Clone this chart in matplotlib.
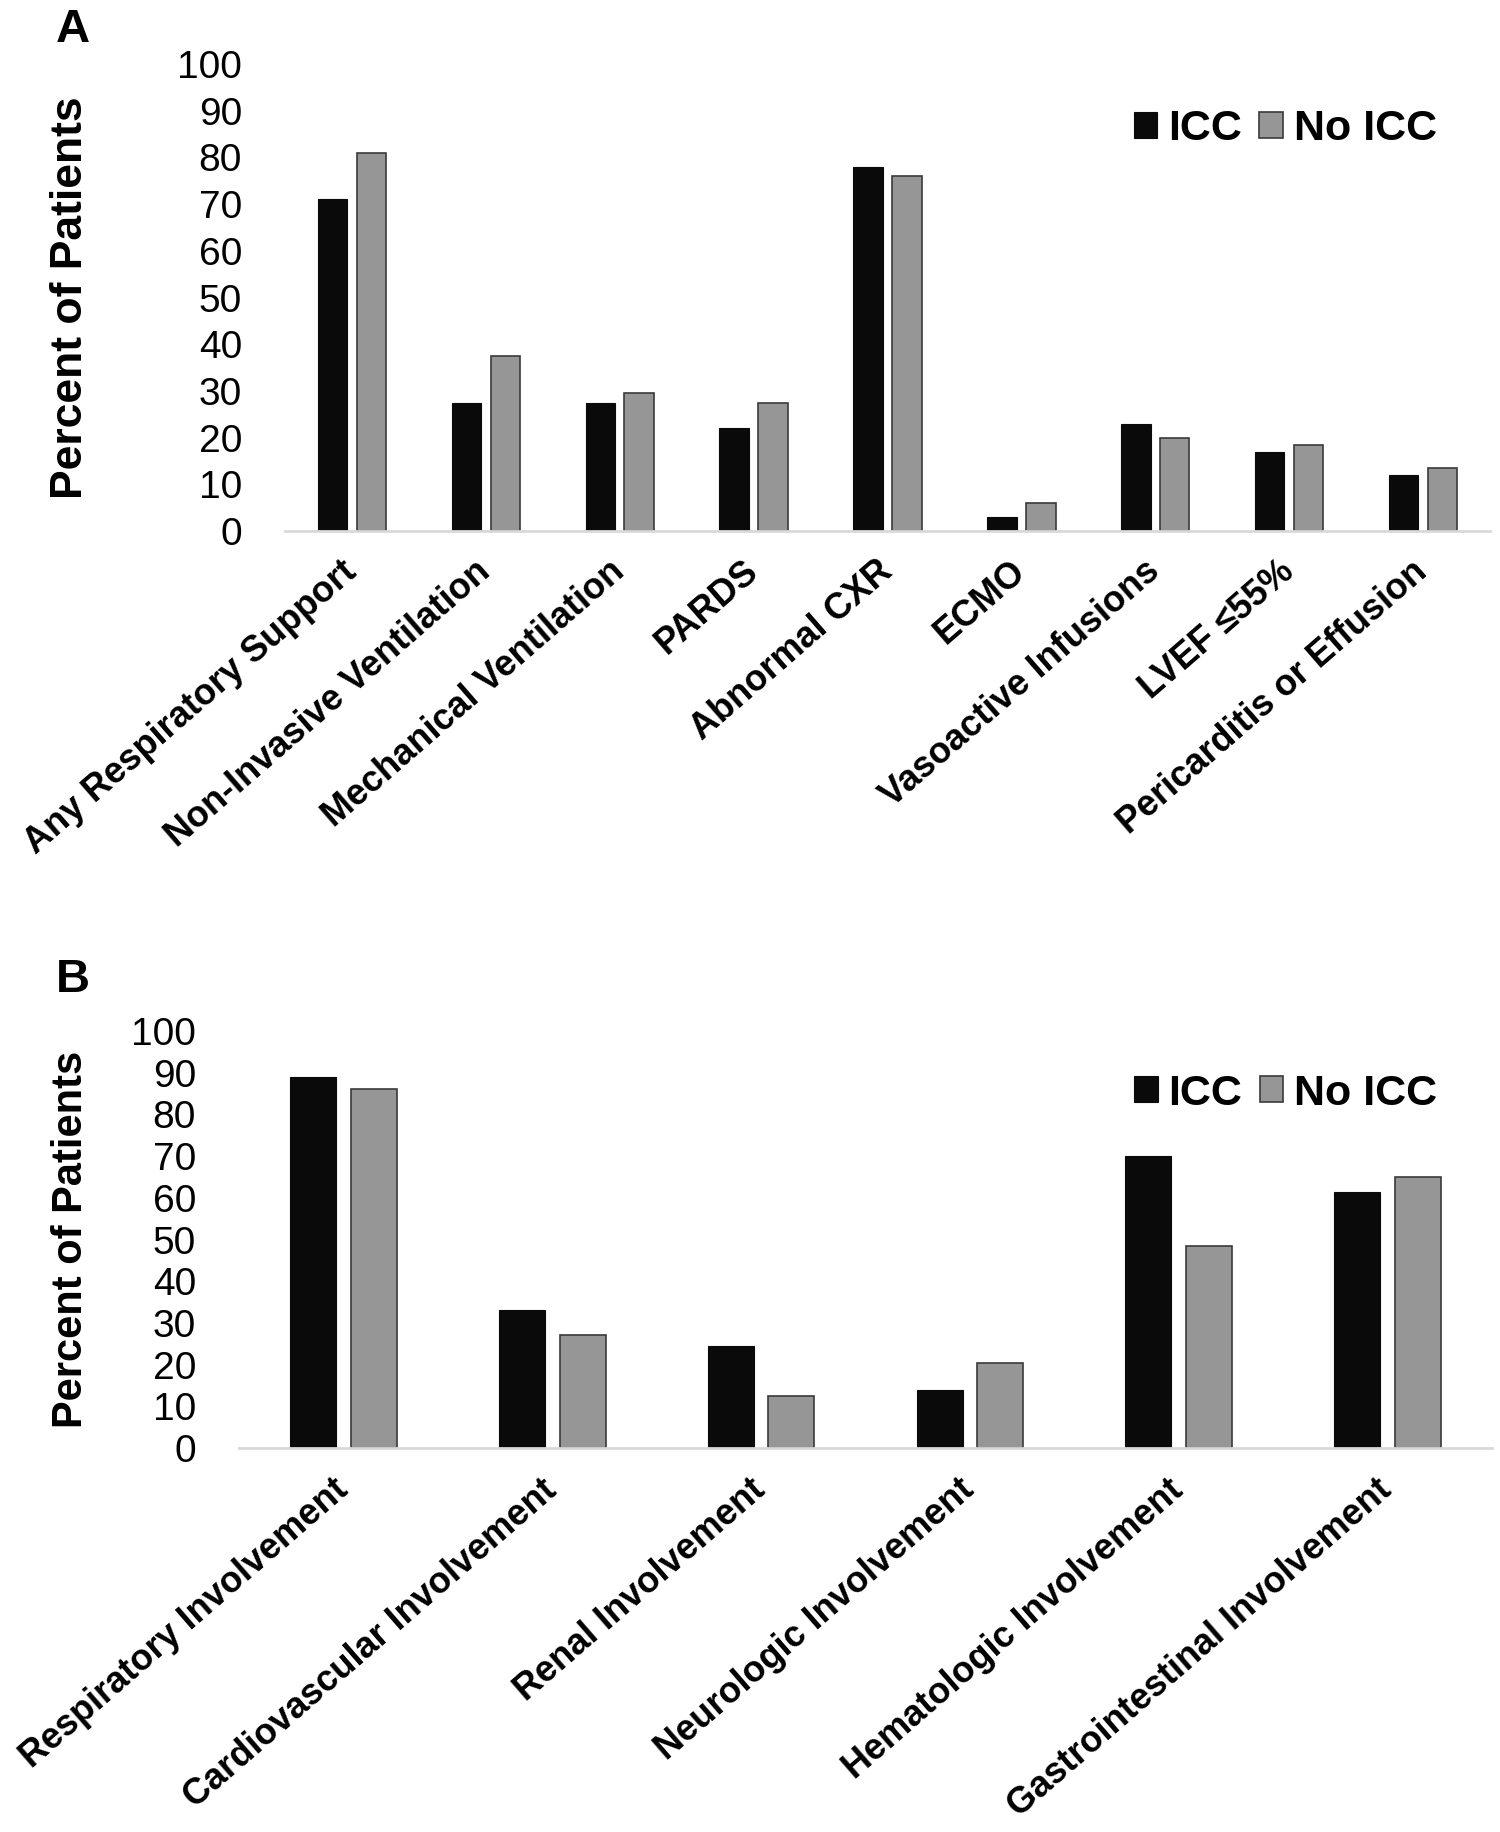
import matplotlib
matplotlib.use("Agg")
import matplotlib.pyplot as plt
import numpy as np

plt.rcParams['font.family'] = ['Liberation Sans', 'DejaVu Sans']

# panel A data
cats_a = ["Any Respiratory Support", "Non-Invasive Ventilation", "Mechanical Ventilation",
          "PARDS", "Abnormal CXR", "ECMO", "Vasoactive Infusions", "LVEF \u226455%",
          "Pericarditis or Effusion"]
icc_a = [71, 27.5, 27.5, 22, 78, 3, 23, 17, 12]
noicc_a = [81, 37.5, 29.5, 27.5, 76, 6, 20, 18.5, 13.5]

# panel B data
cats_b = ["Respiratory Involvement", "Cardiovascular Involvement", "Renal Involvement",
          "Neurologic Involvement", "Hematologic Involvement", "Gastrointestinal Involvement"]
icc_b = [89, 33, 24.5, 14, 70, 61.5]
noicc_b = [86, 27, 12.5, 20.5, 48.5, 65]

yticks = list(range(0, 101, 10))
labels = ["ICC", "No ICC"]

W, H = 1500, 1832
fig = plt.figure(figsize=(W / 100, H / 100), dpi=100)


def panel(rect, cats, icc, noicc, letter, letter_y, legend_y, xpad, ylab_x, ylab_size):
    ax = fig.add_axes(rect)
    x = np.arange(len(cats))
    w = 0.22
    ax.bar(x - 0.145, icc, w, color="#0a0a0a", edgecolor="#0a0a0a", linewidth=0.8, label=labels[0])
    ax.bar(x + 0.145, noicc, w, color="#969696", edgecolor="#3a3a3a", linewidth=1.2, label=labels[1])
    ax.set_xlim(-0.5, len(cats) - 0.5)
    ax.set_ylim(0, 100)
    ax.set_yticks(yticks)
    ax.tick_params(axis="y", length=0, pad=31, labelsize=28)
    ax.tick_params(axis="x", length=0, pad=xpad)
    ax.set_xticks(x)
    ax.set_xticklabels(cats, rotation=41, ha="right", va="center", rotation_mode="anchor",
                       fontsize=26, fontweight="bold")
    for s in ["top", "right", "left"]:
        ax.spines[s].set_visible(False)
    ax.spines["bottom"].set_color("#d9d9d9")
    ax.spines["bottom"].set_linewidth(2)
    ax.set_ylabel("Percent of Patients", fontsize=ylab_size, fontweight="bold")
    ax.yaxis.set_label_coords(ylab_x, 0.5)
    ax.legend(loc="center right", bbox_to_anchor=(0.97, legend_y), ncol=2, frameon=False,
              prop={"size": 31, "weight": "bold"}, handlelength=0.55, handleheight=0.55,
              handletextpad=0.25, columnspacing=0.4, borderaxespad=0)
    fig.text(56 / W, 1 - letter_y / H, letter, fontsize=34, fontweight="bold", va="top")
    return ax


panel([285 / W, 1 - 531 / H, (1490 - 285) / W, (531 - 64) / H],
      cats_a, icc_a, noicc_a, "A", 8, 0.86, 26, -0.161, 32)
panel([239 / W, 1 - 1448 / H, (1492 - 239) / W, (1448 - 1031) / H],
      cats_b, icc_b, noicc_b, "B", 958, 0.85, 27, -0.118, 30)

fig.savefig("out.png", dpi=100)
